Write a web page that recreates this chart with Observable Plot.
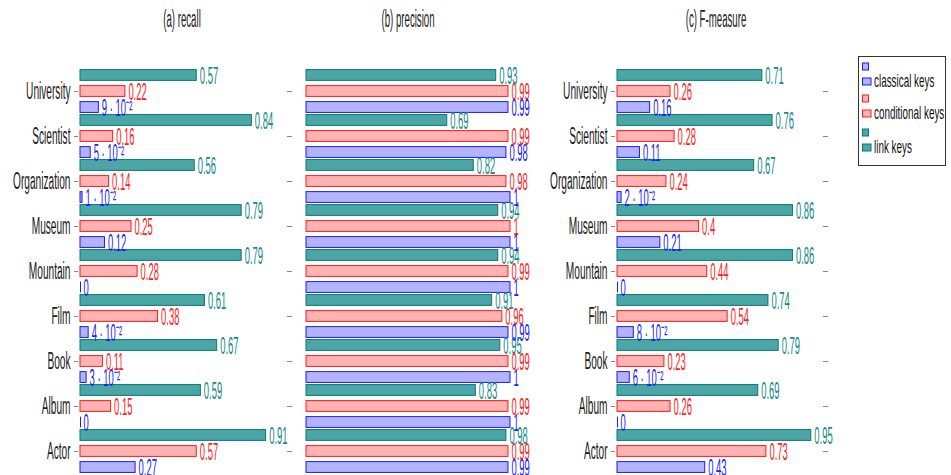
<!DOCTYPE html>
<html><head><meta charset="utf-8">
<script src="https://cdn.jsdelivr.net/npm/d3@7"></script>
<script src="https://cdn.jsdelivr.net/npm/@observablehq/plot@0.6"></script>
<style>
body{margin:0;background:#fff;}
#chart{position:relative;width:951px;height:475px;overflow:hidden;font-family:"Liberation Sans",Arial,sans-serif;}
.panel{position:absolute;top:0;}
.panel svg{overflow:visible;}
.title{position:absolute;top:5px;font-size:23px;line-height:28px;color:#222;white-space:nowrap;transform:translateX(-50%) scaleX(0.42);}
#legend{position:absolute;left:858px;top:56px;width:88px;height:110px;border:1px solid #333;box-sizing:border-box;}
.lg{position:absolute;left:15px;font-size:19px;line-height:22px;color:#111;white-space:nowrap;transform-origin:left center;transform:scaleX(0.52);}
</style></head>
<body>
<div id="chart"></div>
<script>
const categories = ["University","Scientist","Organization","Museum","Mountain","Film","Book","Album","Actor"];
const seriesNames = ["link keys","conditional keys","classical keys"];
const legendOrder = ["classical keys","conditional keys","link keys"];
const panelTitles = ["(a) recall","(b) precision","(c) F-measure"];

const recallLink        = [0.57,0.84,0.56,0.79,0.79,0.61,0.67,0.59,0.91];
const recallConditional = [0.22,0.16,0.14,0.25,0.28,0.38,0.11,0.15,0.57];
const recallClassical   = [0.09,0.05,0.01,0.12,0,0.04,0.03,0,0.27];

const precisionLink        = [0.93,0.69,0.82,0.94,0.94,0.91,0.95,0.83,0.98];
const precisionConditional = [0.99,0.99,0.98,1,0.99,0.96,0.99,0.99,0.99];
const precisionClassical   = [0.99,0.98,1,1,1,0.99,1,1,0.99];

const fLink        = [0.71,0.76,0.67,0.86,0.86,0.74,0.79,0.69,0.95];
const fConditional = [0.26,0.28,0.24,0.4,0.44,0.54,0.23,0.26,0.73];
const fClassical   = [0.16,0.11,0.02,0.21,0,0.08,0.06,0,0.43];

const fills   = {"link keys":"#4da6a6","conditional keys":"#ffb3b3","classical keys":"#b3b3ff"};
const strokes = {"link keys":"#007a78","conditional keys":"#ff1a1a","classical keys":"#1a1aff"};
const labelColors = {"link keys":"#138a86","conditional keys":"#ff2020","classical keys":"#2020ff"};
const offsets = {"link keys":-0.356,"conditional keys":0,"classical keys":0.356};
const HALF = 0.12;

function fmt(v){
  if (v === 0) return "0";
  if (v < 0.1) return `${Math.round(v*100)} · 10⁻²`;
  return String(v);
}

function rows(link, cond, cls){
  const out = [];
  const arrs = {"link keys":link,"conditional keys":cond,"classical keys":cls};
  categories.forEach((c,i)=>{
    seriesNames.forEach(s=>{
      out.push({cat:c, i, series:s, value:arrs[s][i], yc:i+offsets[s]});
    });
  });
  return out;
}

const chart = document.getElementById("chart");

function panel({data, left, width, marginLeft, marginRight, leftAxis, rightAxis, rightDx}){
  const marks = [];
  for (const s of seriesNames){
    const d = data.filter(r=>r.series===s);
    marks.push(Plot.rect(d,{x1:0,x2:"value",y1:r=>r.yc-HALF,y2:r=>r.yc+HALF,fill:fills[s],stroke:strokes[s],strokeWidth:1}));
    // zero-length bars still show their outline as a thin line
    marks.push(Plot.ruleX(d.filter(r=>r.value===0),{x:"value",y1:r=>r.yc-HALF,y2:r=>r.yc+HALF,stroke:strokes[s],strokeWidth:1}));
  }
  for (const s of seriesNames){
    const d = data.filter(r=>r.series===s);
    marks.push(Plot.text(d,{x:"value",y:"yc",text:r=>fmt(r.value),dx:3,dy:1.5,textAnchor:"start",fill:labelColors[s],fontSize:23,className:"vlabel"}));
  }
  if (leftAxis) marks.push(Plot.axisY({anchor:"left",ticks:d3.range(categories.length),tickFormat:i=>categories[i],tickSize:4,tickPadding:4,dx:-2,fontSize:23,stroke:"#888",fill:"#1a1a1a",label:null}));
  if (rightAxis) marks.push(Plot.axisY({anchor:"right",ticks:d3.range(categories.length),tickFormat:()=>"",tickSize:5,tickPadding:0,dx:rightDx,stroke:"#888",label:null}));
  const p = Plot.plot({
    width, height:475, marginTop:68.5, marginBottom:1.5, marginLeft, marginRight,
    style:{fontFamily:'"Liberation Sans",Arial,sans-serif',background:"transparent",overflow:"visible"},
    x:{domain:[0,1],axis:null},
    y:{domain:[8.5,-0.5],label:null,axis:(leftAxis||rightAxis)?undefined:null},
    marks
  });
  const div = document.createElement("div");
  div.className = "panel";
  div.style.left = left+"px";
  div.style.width = width+"px";
  div.appendChild(p);
  chart.appendChild(div);
}

panel({data:rows(recallLink,recallConditional,recallClassical),left:0,width:300,marginLeft:80,marginRight:16,leftAxis:true,rightAxis:true,rightDx:2});
panel({data:rows(precisionLink,precisionConditional,precisionClassical),left:300,width:300,marginLeft:6,marginRight:90,leftAxis:false,rightAxis:false});
panel({data:rows(fLink,fConditional,fClassical),left:540,width:320,marginLeft:77,marginRight:39,leftAxis:true,rightAxis:true,rightDx:1});

// titles
const titleX = [182,408,716];
panelTitles.forEach((t,k)=>{
  const el = document.createElement("div");
  el.className = "title";
  el.style.left = titleX[k]+"px";
  el.textContent = t;
  chart.appendChild(el);
});

// legend
const lg = document.createElement("div");
lg.id = "legend";
const ns = "http://www.w3.org/2000/svg";
const icon = document.createElementNS(ns,"svg");
icon.setAttribute("width","88"); icon.setAttribute("height","110");
icon.style.position="absolute"; icon.style.left="-1px"; icon.style.top="-1px";
lg.appendChild(icon);
const centers = [25, 57, 91];
legendOrder.forEach((s,k)=>{
  const c = centers[k];
  const r1 = document.createElementNS(ns,"rect");
  r1.setAttribute("x",4.5); r1.setAttribute("y",c-18); r1.setAttribute("width",6); r1.setAttribute("height",7);
  const r2 = document.createElementNS(ns,"rect");
  r2.setAttribute("x",4.5); r2.setAttribute("y",c-3); r2.setAttribute("width",8.5); r2.setAttribute("height",7);
  for (const r of [r1,r2]){ r.setAttribute("fill",fills[s]); r.setAttribute("stroke",strokes[s]); icon.appendChild(r); }
  const t = document.createElement("div");
  t.className = "lg";
  t.style.top = (c-12)+"px";
  t.textContent = s;
  lg.appendChild(t);
});
chart.appendChild(lg);

// condense SVG text to mimic the narrow typeface of the original
chart.querySelectorAll("svg text").forEach(t=>{
  const len = t.getComputedTextLength();
  if (len > 0){
    const k = t.closest(".vlabel") ? 0.41 : 0.44;
    t.setAttribute("textLength", (len*k).toFixed(2));
    t.setAttribute("lengthAdjust","spacingAndGlyphs");
  }
});
</script>
</body></html>
